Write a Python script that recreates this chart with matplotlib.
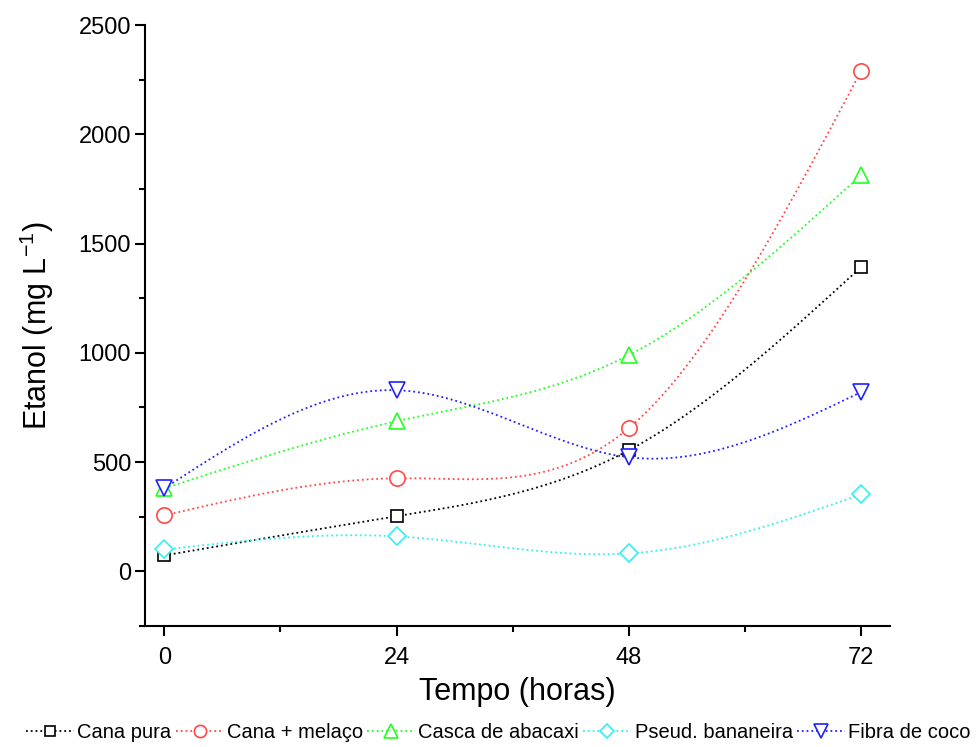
import numpy as np
import matplotlib
matplotlib.use("Agg")
from matplotlib import pyplot as plt

plt.rcParams['font.family'] = ['Liberation Sans', 'DejaVu Sans']
plt.rcParams['axes.unicode_minus'] = False

tempo = [0, 24, 48, 72]
cana_pura = [73, 252, 554, 1392]
cana_melaco = [256, 426, 655, 2289]
casca_abacaxi = [380, 687, 989, 1813]
pseud_bananeira = [100, 160, 82, 352]
fibra_coco = [380, 829, 522, 820]

series = [
    ("Cana pura", cana_pura, "#000000", "s", 9),
    ("Cana + melaço", cana_melaco, "#ff4848", "o", 11),
    ("Casca de abacaxi", casca_abacaxi, "#20ff20", "^", 12),
    ("Pseud. bananeira", pseud_bananeira, "#30f0f0", "D", 9),
    ("Fibra de coco", fibra_coco, "#2020ff", "v", 12),
]


def natural_spline(x, y, n=200):
    # natural cubic spline, only used to draw the smooth connecting curve
    x = np.asarray(x, float)
    y = np.asarray(y, float)
    m = len(x)
    h = np.diff(x)
    A = np.zeros((m, m))
    b = np.zeros(m)
    A[0, 0] = 1
    A[-1, -1] = 1
    for i in range(1, m - 1):
        A[i, i - 1] = h[i - 1]
        A[i, i] = 2 * (h[i - 1] + h[i])
        A[i, i + 1] = h[i]
        b[i] = 6 * ((y[i + 1] - y[i]) / h[i] - (y[i] - y[i - 1]) / h[i - 1])
    M = np.linalg.solve(A, b)
    xs = np.linspace(x[0], x[-1], n)
    ys = np.empty_like(xs)
    for k, xv in enumerate(xs):
        i = min(np.searchsorted(x, xv, side='right') - 1, m - 2)
        t1 = x[i + 1] - xv
        t0 = xv - x[i]
        ys[k] = (M[i] * t1 ** 3 / (6 * h[i]) + M[i + 1] * t0 ** 3 / (6 * h[i])
                 + (y[i] / h[i] - M[i] * h[i] / 6) * t1
                 + (y[i + 1] / h[i] - M[i + 1] * h[i] / 6) * t0)
    return xs, ys


fig = plt.figure(figsize=(9.77, 7.47), dpi=100)
ax = fig.add_axes([0.1484, 0.162, 0.7626, 0.8045])

handles = []
for name, vals, color, mk, ms in series:
    xs, ys = natural_spline(tempo, vals)
    ax.plot(xs, ys, linestyle=':', color=color, linewidth=1.3)
    ax.plot(tempo, vals, linestyle='none', marker=mk, markersize=ms,
            markerfacecolor='white', markeredgecolor=color, markeredgewidth=1.2)
    h, = ax.plot([], [], linestyle=':', color=color, linewidth=1.3, marker=mk,
                 markersize=ms, markerfacecolor='white', markeredgecolor=color,
                 markeredgewidth=1.2, label=name)
    handles.append(h)

ax.set_xlim(-2, 75)
ax.set_ylim(-250, 2500)
ax.set_xticks([0, 24, 48, 72])
ax.set_xticks([12, 36, 60], minor=True)
ax.set_yticks([0, 500, 1000, 1500, 2000, 2500])
ax.set_yticks([-250, 250, 750, 1250, 1750, 2250], minor=True)
ax.spines['top'].set_visible(False)
ax.spines['right'].set_visible(False)
ax.spines['left'].set_linewidth(1.5)
ax.spines['bottom'].set_linewidth(1.5)
ax.tick_params(which='major', direction='out', length=7, width=1.5, labelsize=17)
ax.tick_params(axis='x', which='major', pad=8)
ax.tick_params(axis='y', which='major', pad=3)
ax.tick_params(which='minor', direction='out', length=4, width=1.5)

ax.set_xlabel("Tempo (horas)", fontsize=22, labelpad=6)
ax.set_ylabel("Etanol (mg L$^{\\mathregular{-1}}$)", fontsize=22, labelpad=16)

fig.legend(handles=handles, loc='lower center', bbox_to_anchor=(0.51, -0.018),
           ncol=5, frameon=False, fontsize=14.5, handlelength=2.4,
           handletextpad=0.15, columnspacing=0.2, markerscale=0.8)

fig.savefig("out.png", dpi=100)
